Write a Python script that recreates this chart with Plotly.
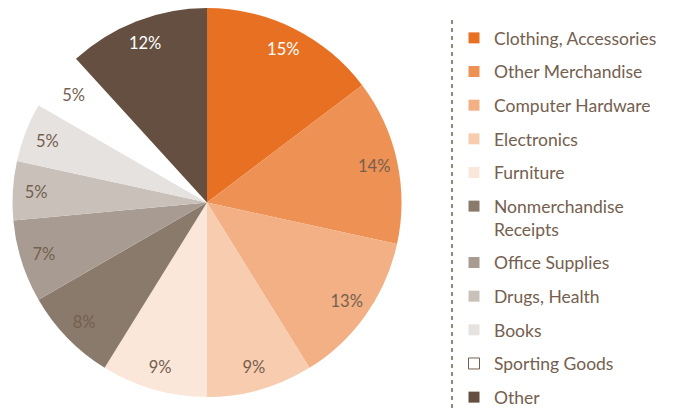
import plotly.graph_objects as go

categories = ["Clothing, Accessories", "Other Merchandise", "Computer Hardware",
              "Electronics", "Furniture", "Nonmerchandise Receipts", "Office Supplies",
              "Drugs, Health", "Books", "Sporting Goods", "Other"]
legend_labels = ["Clothing, Accessories", "Other Merchandise", "Computer Hardware",
                 "Electronics", "Furniture", "Nonmerchandise<br>Receipts", "Office Supplies",
                 "Drugs, Health", "Books", "Sporting Goods", "Other"]
shares = [15, 14, 13, 9, 9, 8, 7, 5, 5, 5, 12]
share_text = ["15%", "14%", "13%", "9%", "9%", "8%", "7%", "5%", "5%", "5%", "12%"]

colors = ["#E87022", "#EE9155", "#F2B084", "#F8CCAF", "#FBE7DA", "#8A7A6C",
          "#A89C92", "#C9C0BA", "#E6E2DF", "#FFFFFF", "#654F40"]
brown = "#74604F"
text_colors = ["#FFFFFF", brown, brown, brown, brown, brown, brown, brown, brown, brown, "#FFFFFF"]

# page body has an 8px margin, so paper coordinates are offset by -8
W, H = 676, 412
cx, cy, R = 199, 194.5, 194.5
dom = dict(x=[(cx - R) / W, (cx + R) / W],
           y=[max(0, (H - cy - R) / H), min(1, (H - cy + R) / H)])

fig = go.Figure()
# filled slices
fig.add_trace(go.Pie(
    labels=categories, values=shares, sort=False, direction="clockwise", rotation=0,
    marker=dict(colors=colors, line=dict(width=0)), textinfo="none",
    showlegend=False, hoverinfo="label+percent", domain=dom,
))
# transparent ring carrying the percentage labels near the rim
fig.add_trace(go.Pie(
    labels=categories, values=shares, text=share_text, texttemplate="%{text}",
    sort=False, direction="clockwise", rotation=0, hole=0.76,
    marker=dict(colors=["rgba(0,0,0,0)"] * len(shares), line=dict(width=0)),
    textposition="inside", insidetextorientation="horizontal",
    textfont=dict(color=text_colors, size=16.5, family="Lato"),
    showlegend=False, hoverinfo="skip", domain=dom,
))

for i, (lab, col) in enumerate(zip(legend_labels, colors)):
    line = dict(color=brown, width=1) if col == "#FFFFFF" else dict(width=0)
    fig.add_trace(go.Scatter(
        x=[None], y=[None], mode="markers", name=lab, legendgroup=f"g{i}",
        marker=dict(symbol="square", size=11, color=col, line=line),
    ))

fig.update_layout(
    width=W, height=H, margin=dict(l=0, r=0, t=0, b=0),
    paper_bgcolor="white", plot_bgcolor="white",
    xaxis=dict(visible=False), yaxis=dict(visible=False),
    legend=dict(x=446 / W, y=1 - 12 / H, xanchor="left", yanchor="top",
                font=dict(family="Lato", size=17.5, color=brown),
                tracegroupgap=7.9, valign="top", bgcolor="rgba(0,0,0,0)"),
    shapes=[dict(type="line", xref="paper", yref="paper",
                 x0=444 / W, x1=444 / W, y0=1 - 12 / H, y1=1 - 402 / H,
                 line=dict(color=brown, width=1.5, dash="4px,4px"))],
)

fig.write_html("out.html")
